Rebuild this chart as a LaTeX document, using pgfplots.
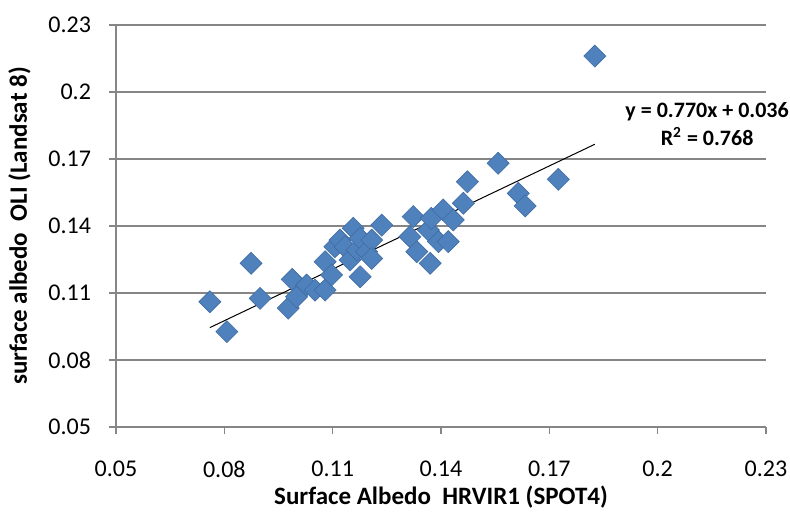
\documentclass[border=0pt]{standalone}
\usepackage{pgfplots}
\pgfplotsset{compat=1.18}
\usepackage{fontspec}
\setmainfont{Carlito}

\definecolor{ptblue}{RGB}{79,129,189}
\definecolor{ptedge}{RGB}{64,108,162}
\definecolor{axgray}{RGB}{134,134,134}

\begin{document}
\begin{tikzpicture}
% fixed page frame around the plot area
\path[use as bounding box] (-58pt,-44.5pt) rectangle (337pt,213.5pt);
\begin{axis}[
  at={(0,0)}, anchor=origin,
  scale only axis,
  width=325pt, height=201pt,
  xmin=0.05, xmax=0.23, ymin=0.05, ymax=0.23,
  axis x line*=bottom, axis y line*=left,
  axis line style={axgray, line width=0.6pt},
  xtick={0.05,0.08,0.11,0.14,0.17,0.2,0.23},
  ytick={0.05,0.08,0.11,0.14,0.17,0.2,0.23},
  xticklabels={0.05,0.08,0.11,0.14,0.17,0.2,0.23},
  yticklabels={0.05,0.08,0.11,0.14,0.17,0.2,0.23},
  tick align=outside, major tick length=3.5pt,
  tick style={axgray, line width=0.6pt},
  ymajorgrids,
  grid style={axgray, line width=0.6pt},
  tick label style={font=\fontsize{12}{13}\selectfont, text=black},
  xticklabel style={yshift=-10pt},
  yticklabel style={xshift=-5.5pt},
  /pgf/number format/assume math mode=true,
  xlabel={\bfseries Surface Albedo\ \ HRVIR1 (SPOT4)},
  ylabel={\bfseries surface albedo\ \ OLI (Landsat 8)},
  label style={font=\fontsize{12.5}{14}\selectfont},
  xlabel style={yshift=2.5pt},
  ylabel style={yshift=2pt},
  clip=false,
]
% field samples
\addplot[only marks, mark=square*, mark size=3.9pt,
  mark options={rotate=45, fill=ptblue, draw=ptedge, line width=0.3pt}]
  table {
x       y
0.0760  0.1061
0.0807  0.0927
0.0874  0.1233
0.0899  0.1076
0.0977  0.1032
0.0988  0.1161
0.1000  0.1083
0.1028  0.1136
0.1051  0.1113
0.1079  0.1113
0.1079  0.1240
0.1097  0.1181
0.1106  0.1307
0.1120  0.1337
0.1134  0.1307
0.1148  0.1248
0.1157  0.1390
0.1167  0.1293
0.1176  0.1345
0.1176  0.1173
0.1194  0.1285
0.1208  0.1337
0.1208  0.1255
0.1236  0.1404
0.1314  0.1352
0.1323  0.1442
0.1333  0.1285
0.1365  0.1382
0.1370  0.1233
0.1373  0.1434
0.1393  0.1330
0.1406  0.1472
0.1420  0.1330
0.1434  0.1427
0.1462  0.1502
0.1473  0.1598
0.1558  0.1681
0.1614  0.1546
0.1633  0.1490
0.1725  0.1609
0.1826  0.2161
};
% linear fit y = 0.770x + 0.036
\addplot[black, line width=0.5pt] coordinates {(0.0760,0.09452) (0.1826,0.17660)};
\node[align=center, font=\bfseries\fontsize{11}{14}\selectfont]
  at (axis cs:0.2137,0.1855) {y = 0.770x + 0.036\\R\textsuperscript{2} = 0.768};
\end{axis}
\end{tikzpicture}
\end{document}
